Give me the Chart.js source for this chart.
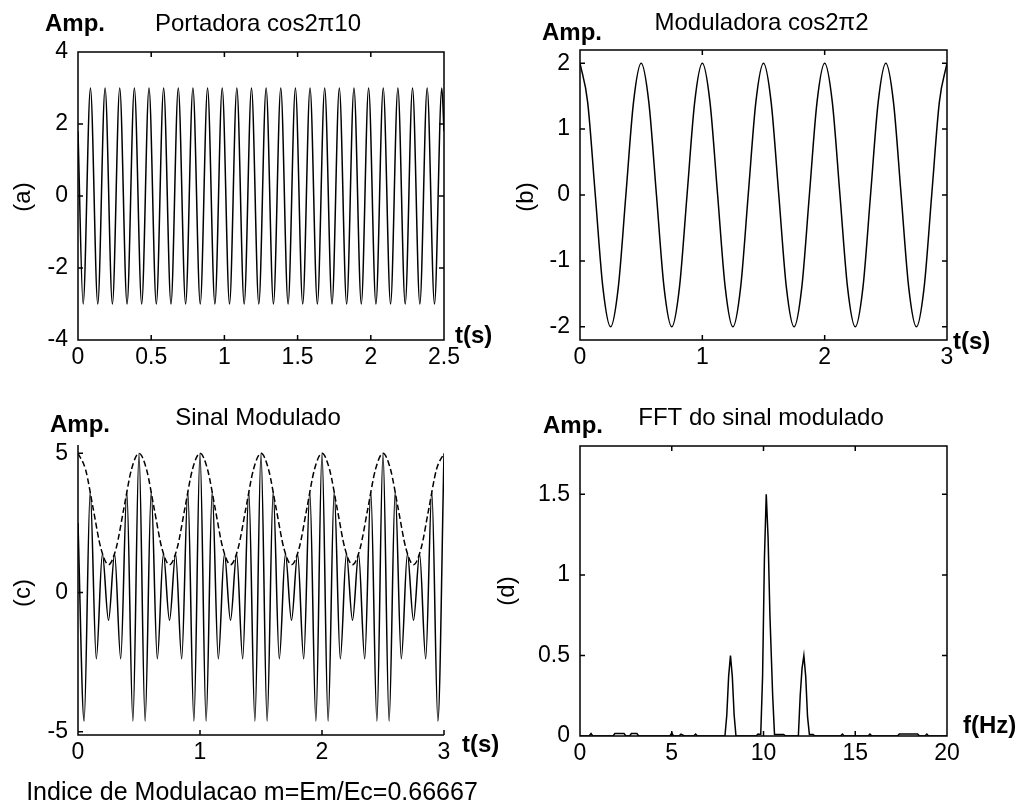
<!DOCTYPE html>
<html lang="pt">
<head>
    <meta charset="UTF-8">
    <title>Modulacao AM</title>
    <script src="https://cdn.jsdelivr.net/npm/chart.js@4"></script>
    <style>
        body { margin: 0; background: #fff; }
        #wrap { position: relative; width: 1021px; height: 807px; overflow: hidden; }
        #wrap canvas { position: absolute; }
    </style>
</head>
<body>
<div id="wrap">
    <canvas id="chartA" width="510" height="400" style="left:0;top:0"></canvas>
    <canvas id="chartB" width="531" height="400" style="left:490px;top:0"></canvas>
    <canvas id="chartC" width="510" height="407" style="left:0;top:400px"></canvas>
    <canvas id="chartD" width="531" height="407" style="left:490px;top:400px"></canvas>
</div>
<script>
// (a) portadora: picos e vales
const carrierT = [0, 0.035, 0.085, 0.135, 0.185, 0.235, 0.285, 0.335, 0.385, 0.435, 0.485,
    0.535, 0.585, 0.635, 0.685, 0.735, 0.785, 0.835, 0.885, 0.935, 0.985,
    1.035, 1.085, 1.135, 1.185, 1.235, 1.285, 1.335, 1.385, 1.435, 1.485,
    1.535, 1.585, 1.635, 1.685, 1.735, 1.785, 1.835, 1.885, 1.935, 1.985,
    2.035, 2.085, 2.135, 2.185, 2.235, 2.285, 2.335, 2.385, 2.435, 2.485, 2.5];
const carrierY = [1.8, -3, 3, -3, 3, -3, 3, -3, 3, -3, 3,
    -3, 3, -3, 3, -3, 3, -3, 3, -3, 3,
    -3, 3, -3, 3, -3, 3, -3, 3, -3, 3,
    -3, 3, -3, 3, -3, 3, -3, 3, -3, 3,
    -3, 3, -3, 3, -3, 3, -3, 3, -3, 3, 1.8];

// (b) moduladora, amostras a cada 0.0625 s
const modStep = 0.0625;
const modY = [2, 1.41, 0, -1.41, -2, -1.41, 0, 1.41,
    2, 1.41, 0, -1.41, -2, -1.41, 0, 1.41,
    2, 1.41, 0, -1.41, -2, -1.41, 0, 1.41,
    2, 1.41, 0, -1.41, -2, -1.41, 0, 1.41,
    2, 1.41, 0, -1.41, -2, -1.41, 0, 1.41,
    2, 1.41, 0, -1.41, -2, -1.41, 0, 1.41, 2];

// (c) sinal modulado (amostras a cada 0.05 s) e envoltoria
const amStep = 0.05;
const amY = [2.5, -4.62, 3.62, -2.38, 1.38, -1, 1.38, -2.38, 3.62, -4.62,
    5, -4.62, 3.62, -2.38, 1.38, -1, 1.38, -2.38, 3.62, -4.62,
    5, -4.62, 3.62, -2.38, 1.38, -1, 1.38, -2.38, 3.62, -4.62,
    5, -4.62, 3.62, -2.38, 1.38, -1, 1.38, -2.38, 3.62, -4.62,
    5, -4.62, 3.62, -2.38, 1.38, -1, 1.38, -2.38, 3.62, -4.62,
    5, -4.62, 3.62, -2.38, 1.38, -1, 1.38, -2.38, 3.62, -4.62, 5];
const envStep = 0.0625;
const envY = [5, 4.41, 3, 1.59, 1, 1.59, 3, 4.41,
    5, 4.41, 3, 1.59, 1, 1.59, 3, 4.41,
    5, 4.41, 3, 1.59, 1, 1.59, 3, 4.41,
    5, 4.41, 3, 1.59, 1, 1.59, 3, 4.41,
    5, 4.41, 3, 1.59, 1, 1.59, 3, 4.41,
    5, 4.41, 3, 1.59, 1, 1.59, 3, 4.41, 5];

// (d) FFT
const fftF = [0, 0.5, 0.6, 0.7, 1.8, 1.9, 2.4, 2.5, 2.7, 2.8, 3.1, 3.2, 4.9, 5.0, 5.1, 5.4, 5.5, 5.7,
    6.2, 6.3, 6.4, 7.9, 8.0, 8.1, 8.2, 8.3, 8.4, 8.5, 9.6, 9.7, 9.85, 9.95, 10.05, 10.15, 10.25,
    10.35, 10.5, 10.6, 11.1, 11.2, 11.9, 12.0, 12.1, 12.2, 12.3, 12.4, 12.5, 12.7, 12.8,
    14.2, 14.3, 14.4, 15.7, 15.8, 15.9, 17.3, 17.4, 18.4, 18.5, 18.8, 18.9, 19.0, 20];
const fftA = [0, 0, 0.015, 0, 0, 0.015, 0.015, 0, 0, 0.015, 0.015, 0, 0, 0.02, 0, 0, 0.012, 0,
    0, 0.012, 0, 0, 0.13, 0.37, 0.5, 0.37, 0.13, 0, 0, 0.012, 0.01, 0.37, 1.1, 1.5, 1.23,
    0.75, 0.25, 0.01, 0.01, 0, 0, 0.25, 0.42, 0.5, 0.37, 0.12, 0.01, 0.01, 0,
    0, 0.012, 0, 0, 0.012, 0, 0, 0.012, 0.012, 0, 0, 0.012, 0, 0];

const xy = (xs, ys) => ys.map((y, i) => ({x: xs[i], y: y}));
const grid = (ys, step) => ys.map((_, i) => i * step);
const fmt = v => String(Math.round(v * 100) / 100);

Chart.defaults.font.family = "'Liberation Sans', Arial, sans-serif";
Chart.defaults.font.size = 23;
Chart.defaults.color = '#000';

// moldura estilo matlab com marcas internas
const framePlugin = {
    id: 'frame',
    afterDatasetsDraw(chart, args, opts) {
        const {ctx, chartArea: a, scales: {x, y}} = chart;
        const len = 5;
        ctx.save();
        ctx.strokeStyle = '#000';
        ctx.lineWidth = 1.5;
        ctx.beginPath();
        if (opts.box) {
            ctx.rect(a.left, a.top, a.width, a.height);
        } else {
            ctx.moveTo(a.left, a.top);
            ctx.lineTo(a.left, a.bottom);
            ctx.lineTo(a.right, a.bottom);
        }
        x.ticks.forEach(t => {
            const px = x.getPixelForValue(t.value);
            ctx.moveTo(px, a.bottom); ctx.lineTo(px, a.bottom - len);
            if (opts.box) { ctx.moveTo(px, a.top); ctx.lineTo(px, a.top + len); }
        });
        y.ticks.forEach(t => {
            const py = y.getPixelForValue(t.value);
            ctx.moveTo(a.left, py); ctx.lineTo(a.left + len, py);
            if (opts.box) { ctx.moveTo(a.right, py); ctx.lineTo(a.right - len, py); }
        });
        ctx.stroke();
        ctx.restore();
    }
};

// textos (titulo, Amp., unidade, rotulo do eixo)
const textPlugin = {
    id: 'texts',
    afterDraw(chart, args, opts) {
        const {ctx, chartArea: a} = chart;
        const ax = {left: a.left, right: a.right, center: (a.left + a.right) / 2};
        const ay = {top: a.top, bottom: a.bottom, middle: (a.top + a.bottom) / 2};
        (opts.items || []).forEach(it => {
            ctx.save();
            ctx.fillStyle = '#000';
            ctx.font = it.font;
            ctx.textAlign = it.align || 'left';
            ctx.textBaseline = it.baseline || 'alphabetic';
            ctx.translate(ax[it.at[0]] + it.at[1], ay[it.at[2]] + it.at[3]);
            if (it.rot) ctx.rotate(it.rot);
            ctx.fillText(it.text, 0, 0);
            ctx.restore();
        });
    }
};

const F = "'Liberation Sans', Arial, sans-serif";
function labels(title, unit, ylab, pos) {
    return [
        {text: title, font: '24px ' + F, align: 'center', at: ['center', pos.title[0], 'top', pos.title[1]]},
        {text: 'Amp.', font: 'bold 24px ' + F, at: ['left', pos.amp[0], 'top', pos.amp[1]]},
        {text: unit, font: 'bold 24px ' + F, at: ['right', pos.unit[0], 'bottom', pos.unit[1]]},
        {text: ylab, font: '24px ' + F, align: 'center', baseline: 'middle', rot: -Math.PI / 2,
            at: ['left', pos.ylab[0], 'middle', pos.ylab[1]]}
    ];
}

function makeChart(id, datasets, cfg) {
    return new Chart(document.getElementById(id), {
        type: 'line',
        data: {datasets: datasets},
        options: {
            responsive: false,
            animation: false,
            events: [],
            layout: {padding: cfg.padding},
            elements: {
                point: {radius: 0},
                line: {borderColor: '#000', borderWidth: 1.5, cubicInterpolationMode: 'monotone'}
            },
            scales: {
                x: {
                    type: 'linear', min: cfg.x[0], max: cfg.x[1],
                    grid: {display: false, drawTicks: false}, border: {display: false},
                    ticks: {stepSize: cfg.x[2], padding: 4, maxRotation: 0, autoSkip: false,
                        includeBounds: false, callback: fmt},
                    afterFit: s => { s.height = cfg.xh; }
                },
                y: {
                    min: cfg.y[0], max: cfg.y[1],
                    grid: {display: false, drawTicks: false}, border: {display: false},
                    ticks: {stepSize: cfg.y[2], padding: 10, autoSkip: false,
                        includeBounds: false, callback: fmt},
                    afterFit: s => { s.width = cfg.yw; }
                }
            },
            plugins: {
                legend: {display: false},
                tooltip: {enabled: false},
                frame: {box: cfg.box},
                texts: {items: cfg.texts}
            }
        },
        plugins: [framePlugin, textPlugin]
    });
}

makeChart('chartA', [
    {data: xy(carrierT, carrierY)}
], {
    padding: {top: 52, right: 66, left: 0, bottom: 0}, yw: 78, xh: 60, box: true,
    x: [0, 2.5, 0.5], y: [-4, 4, 2],
    texts: labels('Portadora cos2\u03c010', 't(s)', '(a)',
        {title: [-3, -21], amp: [-33, -21], unit: [11, 3], ylab: [-55, 1]})
});

makeChart('chartB', [
    {data: xy(grid(modY, modStep), modY)}
], {
    padding: {top: 50, right: 74, left: 0, bottom: 0}, yw: 90, xh: 60, box: true,
    x: [0, 3, 1], y: [-2.2, 2.2, 1],
    texts: labels('Moduladora cos2\u03c02', 't(s)', '(b)',
        {title: [-2, -20], amp: [-38, -10], unit: [6, 9], ylab: [-54, 2]})
});

const textsC = labels('Sinal Modulado', 't(s)', '(c)',
    {title: [-3, -20], amp: [-28, -13], unit: [18, 17], ylab: [-55, 3]});
textsC.push({text: 'Indice de Modulacao m=Em/Ec=0.66667', font: '25px ' + F, align: 'center',
    at: ['center', -9, 'bottom', 65]});

makeChart('chartC', [
    {data: xy(grid(amY, amStep), amY)},
    {data: xy(grid(envY, envStep), envY), borderDash: [6, 3]}
], {
    padding: {top: 45, right: 66, left: 0, bottom: 0}, yw: 78, xh: 72, box: false,
    x: [0, 3, 1], y: [-5.12, 5.3, 5],
    texts: textsC
});

makeChart('chartD', [
    {data: xy(fftF, fftA), cubicInterpolationMode: 'default', tension: 0}
], {
    padding: {top: 46, right: 74, left: 0, bottom: 0}, yw: 90, xh: 71, box: true,
    x: [0, 20, 5], y: [0, 1.8, 0.5],
    texts: labels('FFT do sinal modulado', 'f(Hz)', '(d)',
        {title: [-2.5, -21], amp: [-37, -13], unit: [16, -3], ylab: [-73, 0]})
});
</script>
</body>
</html>
